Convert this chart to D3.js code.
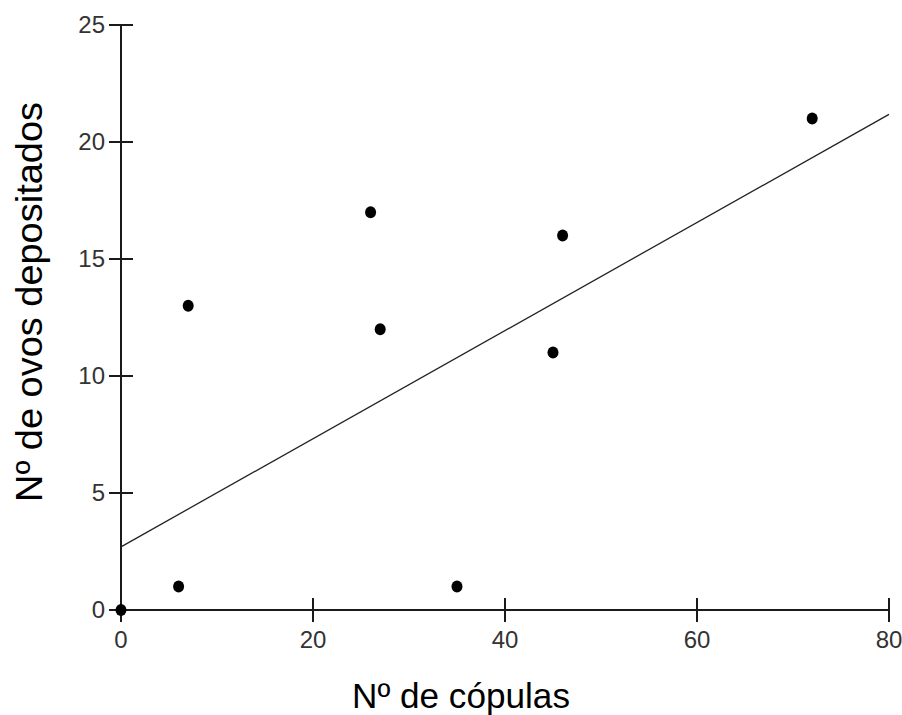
<!DOCTYPE html>
<html>
<head>
<meta charset="utf-8">
<script src="https://cdn.jsdelivr.net/npm/d3@7"></script>
<style>
  html, body { margin: 0; padding: 0; background: #fff; }
  svg { display: block; }
</style>
</head>
<body>
<script>
// Data
const copulas = [0, 6, 7, 26, 27, 35, 45, 46, 72];
const ovos    = [0, 1, 13, 17, 12, 1, 11, 16, 21];
const xTicks = [0, 20, 40, 60, 80];
const yTicks = [0, 5, 10, 15, 20, 25];
const fitIntercept = 2.7;
const fitSlope = 0.231;
const fitRange = [0, 80];
const xTitle = "Nº de cópulas";
const yTitle = "Nº de ovos depositados";

const W = 902, H = 715;
const svg = d3.select("body").append("svg").attr("width", W).attr("height", H);

const x = d3.scaleLinear().domain([0, 80]).range([121, 889]);
const y = d3.scaleLinear().domain([0, 25]).range([610, 25]);

const axisColor = "#1a1a1a";
const labelFont = "'Liberation Sans Narrow', 'Arial Narrow', sans-serif";

// X axis
const gx = svg.append("g").attr("transform", `translate(0,${y(0)})`);
gx.append("line").attr("x1", x(0)).attr("x2", x(80)).attr("y1", 0).attr("y2", 0)
  .attr("stroke", axisColor).attr("stroke-width", 2);
gx.selectAll("line.tick").data(xTicks).join("line").attr("class", "tick")
  .attr("x1", d => x(d)).attr("x2", d => x(d)).attr("y1", -12).attr("y2", 12)
  .attr("stroke", axisColor).attr("stroke-width", 2);
gx.selectAll("text").data(xTicks).join("text")
  .attr("x", d => x(d)).attr("y", 38)
  .attr("text-anchor", "middle")
  .attr("font-family", labelFont).attr("font-size", 24).attr("fill", "#333")
  .text(d => d);

// Y axis
const gy = svg.append("g").attr("transform", `translate(${x(0)},0)`);
gy.append("line").attr("x1", 0).attr("x2", 0).attr("y1", y(0)).attr("y2", y(25))
  .attr("stroke", axisColor).attr("stroke-width", 2);
gy.selectAll("line.tick").data(yTicks).join("line").attr("class", "tick")
  .attr("x1", -12).attr("x2", 12).attr("y1", d => y(d)).attr("y2", d => y(d))
  .attr("stroke", axisColor).attr("stroke-width", 2);
gy.selectAll("text").data(yTicks).join("text")
  .attr("x", -16).attr("y", d => y(d)).attr("dy", "0.35em")
  .attr("text-anchor", "end")
  .attr("font-family", labelFont).attr("font-size", 24).attr("fill", "#333")
  .text(d => d);

// Regression line
svg.append("line")
  .attr("x1", x(fitRange[0])).attr("y1", y(fitIntercept + fitSlope * fitRange[0]))
  .attr("x2", x(fitRange[1])).attr("y2", y(fitIntercept + fitSlope * fitRange[1]))
  .attr("stroke", "#222").attr("stroke-width", 1.3);

// Points
svg.selectAll("ellipse.pt").data(copulas.map((c, i) => [c, ovos[i]])).join("ellipse")
  .attr("class", "pt")
  .attr("cx", d => x(d[0])).attr("cy", d => y(d[1]))
  .attr("rx", 5.5).attr("ry", 6)
  .attr("fill", "#000");

// Titles
svg.append("text")
  .attr("x", 461).attr("y", 708)
  .attr("text-anchor", "middle")
  .attr("font-family", "'Liberation Sans', Arial, sans-serif")
  .attr("font-size", 35).attr("fill", "#000")
  .attr("textLength", 218).attr("lengthAdjust", "spacingAndGlyphs")
  .text(xTitle);

svg.append("text")
  .attr("transform", `translate(42,302) rotate(-90)`)
  .attr("text-anchor", "middle")
  .attr("font-family", "'Liberation Sans', Arial, sans-serif")
  .attr("font-size", 37).attr("fill", "#000")
  .attr("textLength", 400).attr("lengthAdjust", "spacingAndGlyphs")
  .text(yTitle);
</script>
</body>
</html>
